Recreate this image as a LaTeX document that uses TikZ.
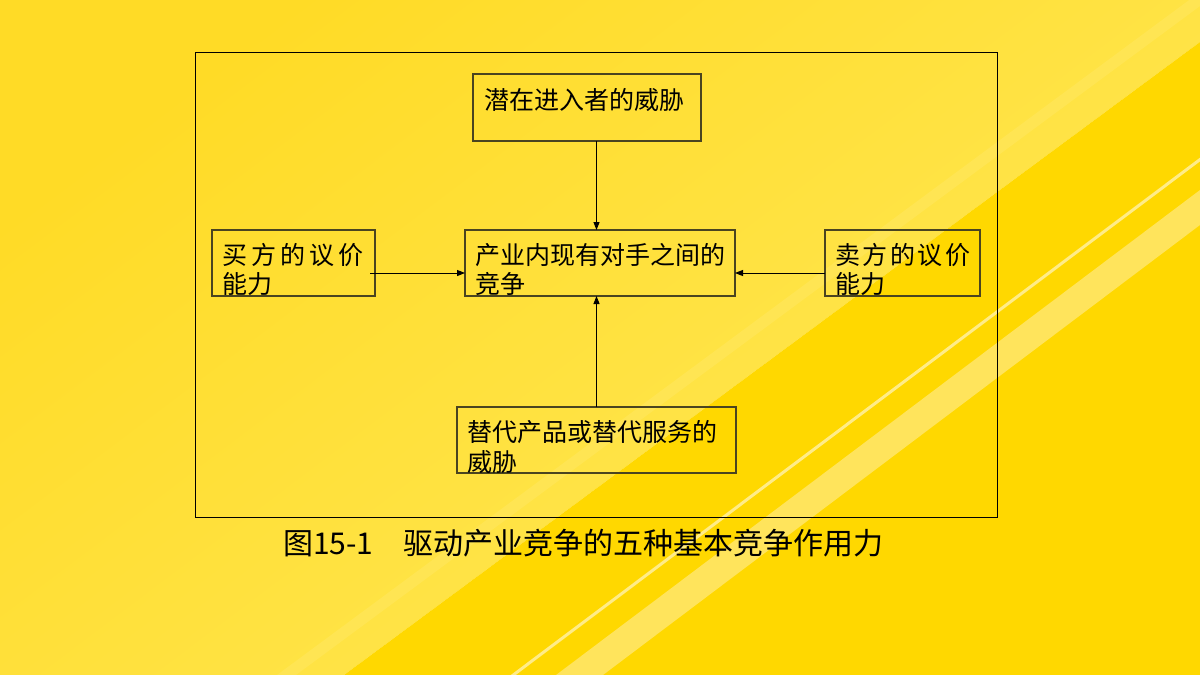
\documentclass[tikz,border=0pt]{standalone}
\usepackage{fontspec}
\setmainfont{Noto Sans CJK SC}
\usetikzlibrary{arrows.meta,calc}
\definecolor{bgdeep}{HTML}{FFDB26}
\definecolor{bglight}{HTML}{FFE858}
\definecolor{bgsat}{HTML}{FFD800}
\definecolor{bgband}{HTML}{FFE45C}
\definecolor{bgline}{HTML}{FFEC88}
\definecolor{bghi}{HTML}{FFEC78}
\definecolor{boxline}{HTML}{4A4420}
\begin{document}
\begin{tikzpicture}[x=1pt,y=-1pt,
  boxst/.style={draw=boxline,line width=1.3pt,rectangle,inner sep=0pt,outer sep=0pt,anchor=north west},
  lbl/.style={anchor=base west,inner sep=0pt,font=\fontsize{25}{29.5}\selectfont},
  arr/.style={draw=black,line width=1pt,-{Triangle[length=8pt,width=6pt]}}]
\useasboundingbox (0,0) rectangle (1200,675);
% background
\begin{scope}
\clip (0,0) rectangle (1200,675);
\shade[top color=bgdeep,bottom color=bglight,shading angle=37]
  (0,0) -- (1200,0) -- (1200,42) -- (344,675) -- (0,675) -- cycle;
\fill[bghi,opacity=0.3] (0,880) -- (1200,-8) -- (1200,6) -- (0,894) -- cycle;
\fill[bgsat] (344,675) -- (1200,42) -- (1200,675) -- cycle;
\fill[bgband] (556,675) -- (1200,190) -- (1200,225) -- (603,675) -- cycle;
\draw[bgline,line width=3pt] (400,760) -- (1250,122);
\end{scope}
% frame
\node[draw=black,line width=1pt,rectangle,inner sep=0pt,outer sep=0pt,anchor=north west,
      minimum width=802pt,minimum height=465pt] (frame) at (195,52) {};
% boxes
\node[boxst,minimum width=228pt,minimum height=67pt] (tb) at (473,74) {};
\node[boxst,minimum width=163pt,minimum height=66pt] (lb) at (212,230) {};
\node[boxst,minimum width=270pt,minimum height=66pt] (cb) at (465,230) {};
\node[boxst,minimum width=155pt,minimum height=66pt] (rb) at (825,230) {};
\node[boxst,minimum width=279pt,minimum height=66pt] (bb) at (457,407) {};
% texts
\node[lbl] (tbt) at (484,109) {潜在进入者的威胁};
\node[lbl] (lbt) at (222,264) {\vtop{\hbox{买\kern4pt 方\kern4pt 的\kern4pt 议\kern4pt 价}\hbox{能力}}};
\node[lbl] (cbt) at (475,264) {\vtop{\hbox{产业内现有对手之间的}\hbox{竞争}}};
\node[lbl] (rbt) at (835,264) {\vtop{\hbox{卖\kern2.5pt 方\kern2.5pt 的\kern2.5pt 议\kern2.5pt 价}\hbox{能力}}};
\node[lbl] (bbt) at (467,441.5) {\vtop{\hbox{替代产品或替代服务的}\hbox{威胁}}};
% caption
\node[anchor=base west,inner sep=0pt,font=\fontsize{30}{30}\selectfont] (cap) at (283,554)
  {\makebox[120pt][l]{图15-1}驱动产业竞争的五种基本竞争作用力};
% arrows
\draw[arr] (tb.south -| bb.north) -- (cb.north -| bb.north);
\draw[arr] (bb.north) -- (cb.south -| bb.north);
\draw[arr] ($(lb.east)+(-5,10)$) -- ($(cb.west)+(0,10)$);
\draw[arr] ($(rb.west)+(0,10)$) -- ($(cb.east)+(0,10)$);
\end{tikzpicture}
\end{document}
